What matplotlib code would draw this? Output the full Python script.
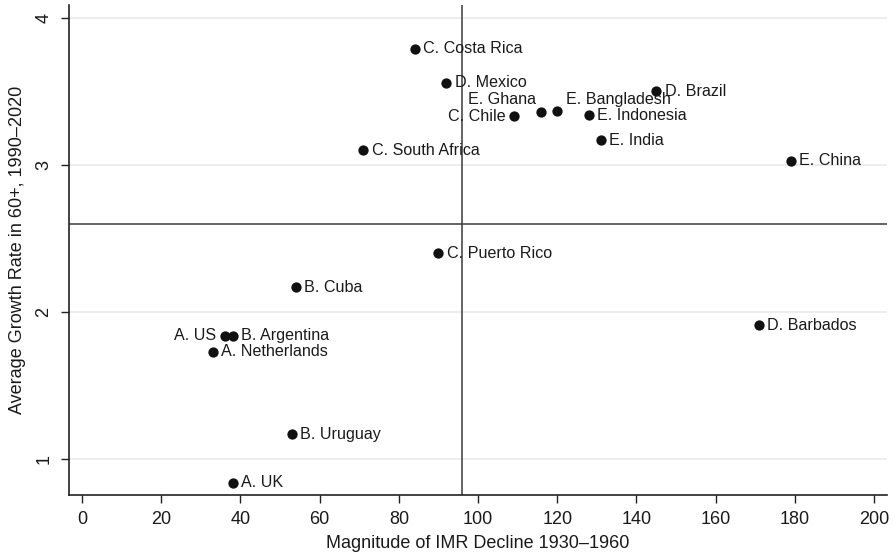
import matplotlib
matplotlib.use("Agg")
import matplotlib.pyplot as plt

plt.rcParams['font.family'] = ['Liberation Sans', 'DejaVu Sans']

countries = ["C. Costa Rica", "D. Mexico", "D. Brazil", "E. Ghana", "E. Bangladesh",
             "C. Chile", "E. Indonesia", "E. India", "E. China", "C. South Africa",
             "C. Puerto Rico", "B. Cuba", "A. US", "B. Argentina", "A. Netherlands",
             "D. Barbados", "B. Uruguay", "A. UK"]
imr_decline = [84, 92, 145, 116, 120, 109, 128, 131, 179, 71,
               90, 54, 36, 38, 33, 171, 53, 38]
growth_60 = [3.79, 3.56, 3.50, 3.36, 3.37, 3.33, 3.34, 3.17, 3.03, 3.10,
             2.40, 2.17, 1.84, 1.84, 1.73, 1.91, 1.17, 0.84]

x_ref = 96
y_ref = 2.6
x_ticks = [0, 20, 40, 60, 80, 100, 120, 140, 160, 180, 200]
y_ticks = [1, 2, 3, 4]

# label placement: (dx, dy) in points, horizontal alignment
placement = {
    "E. Ghana": (-4, 9, "right"),
    "E. Bangladesh": (6, 8, "left"),
    "C. Chile": (-6, 0, "right"),
    "A. US": (-6, 0, "right"),
}

fig = plt.figure(figsize=(8.96, 5.57), dpi=100)
ax = fig.add_axes([0.077, 0.111, 0.913, 0.880])

for yt in y_ticks:
    ax.axhline(yt, color="#eaeaea", lw=1.2, zorder=0)
ax.axhline(y_ref, color="#3a3a3a", lw=1.1, zorder=1)
ax.axvline(x_ref, color="#3a3a3a", lw=1.1, zorder=1)

ax.scatter(imr_decline, growth_60, s=55, color="#111111", zorder=3, linewidths=0)

for name, xv, yv in zip(countries, imr_decline, growth_60):
    dx, dy, ha = placement.get(name, (6, 0, "left"))
    ax.annotate(name, (xv, yv), xytext=(dx, dy), textcoords="offset points",
                ha=ha, va="center", fontsize=11.6, color="#1a1a1a", zorder=4)

ax.set_xlim(-3.3, 203.3)
ax.set_ylim(0.755, 4.088)
ax.set_xticks(x_ticks)
ax.set_yticks(y_ticks)
ax.tick_params(axis="both", direction="out", length=6, width=1, color="#222222",
               labelsize=13, labelcolor="#1a1a1a")
ax.tick_params(axis="x", pad=5.5)
ax.tick_params(axis="y", pad=6)
plt.setp(ax.get_yticklabels(), rotation=90, va="center")

for side in ("top", "right"):
    ax.spines[side].set_visible(False)
for side in ("left", "bottom"):
    ax.spines[side].set_color("#222222")
    ax.spines[side].set_linewidth(1.2)

ax.set_xlabel("Magnitude of IMR Decline 1930\u20131960", fontsize=13, color="#1a1a1a", labelpad=5)
ax.set_ylabel("Average Growth Rate in 60+, 1990\u20132020", fontsize=13, color="#1a1a1a", labelpad=7)

fig.savefig("out.png", dpi=100)
